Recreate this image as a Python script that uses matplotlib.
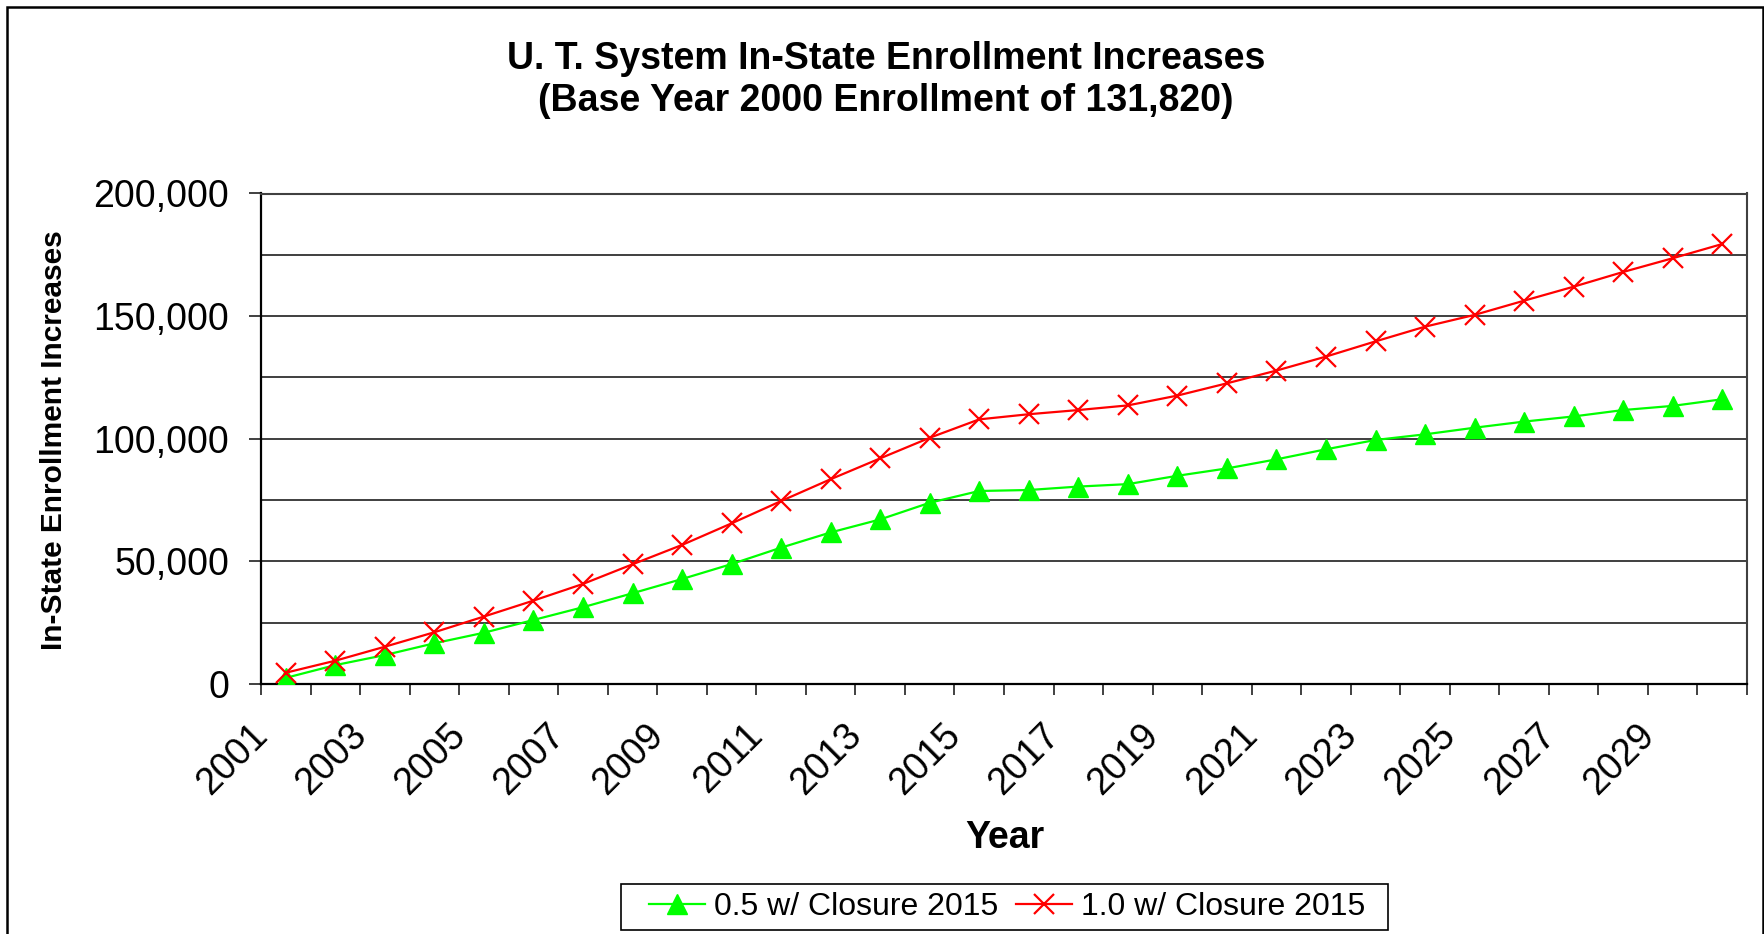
import numpy as np
import matplotlib
matplotlib.use('Agg')
import matplotlib.pyplot as plt
from matplotlib.ticker import FuncFormatter, MultipleLocator
from matplotlib.transforms import blended_transform_factory, offset_copy
from matplotlib.patches import Rectangle

# ---- data ----
years = list(range(2001, 2031))
series_names = ["0.5 w/ Closure 2015", "1.0 w/ Closure 2015"]
green_vals = [2500, 7700, 11800, 16600, 20900, 26100, 31300, 37000, 42800, 48900,
              55600, 61800, 67100, 73900, 78700, 79100, 80500, 81500, 84900, 87900,
              91600, 95700, 99500, 101800, 104500, 107000, 109100, 111700, 113400, 116100]
red_vals = [4600, 9500, 15200, 21100, 27500, 34000, 40800, 48800, 56700, 65500,
            74600, 83500, 92000, 100400, 107900, 110000, 111700, 113600, 117600, 122600,
            127800, 133500, 139700, 145700, 150500, 156300, 162000, 168000, 173600, 179400]
title_text = "U. T. System In-State Enrollment Increases\n(Base Year 2000 Enrollment of 131,820)"
x_label = "Year"
y_label = "In-State Enrollment Increases"

plt.rcParams['font.family'] = ['Liberation Sans', 'DejaVu Sans']

W, H = 1764, 934
fig = plt.figure(figsize=(W / 100, H / 100), dpi=100)
ax = fig.add_axes([261 / W, 1 - 684 / H, (1747 - 261) / W, (684 - 193.5) / H])

x = np.arange(len(years))
ax.plot(x, green_vals, color='#00FF00', lw=1.6, marker='^', ms=15,
        mec='#00FF00', mfc='#00FF00', label=series_names[0], zorder=3)
ax.plot(x, red_vals, color='#FF0000', lw=1.6, marker='x', ms=15, mew=1.6,
        label=series_names[1], zorder=4)

ax.set_xlim(-0.5, len(years) - 0.5)
ax.set_ylim(0, 200000)
ax.yaxis.set_major_locator(MultipleLocator(50000))
ax.yaxis.set_minor_locator(MultipleLocator(25000))
ax.grid(which='both', axis='y', color='#303030', lw=1.3)
ax.set_axisbelow(True)
ax.yaxis.set_major_formatter(FuncFormatter(lambda v, p: f'{int(v):,}'))
ax.tick_params(axis='y', which='major', length=9, width=1.4, pad=14,
               labelsize=27, direction='out', color='#404040')
ax.tick_params(axis='y', which='minor', length=0)

ax.set_xticks(x[::2])
ax.set_xticklabels([''] * len(x[::2]))
ax.set_xticks(np.arange(-0.5, len(years), 1), minor=True)
ax.tick_params(axis='x', which='major', length=0)
ax.tick_params(axis='x', which='minor', length=8, width=1.4, direction='out', color='#404040')

trans = offset_copy(blended_transform_factory(ax.transData, ax.transAxes),
                    fig=fig, x=-24, y=-46, units='dots')
for i in range(0, len(years), 2):
    ax.text(x[i], 0, str(years[i]), transform=trans, rotation=45, ha='right',
            va='center', rotation_mode='anchor', fontsize=27, clip_on=False)

for s in ['left', 'bottom']:
    ax.spines[s].set_color('black')
    ax.spines[s].set_linewidth(1.6)
for s in ['top', 'right']:
    ax.spines[s].set_color('#404040')
    ax.spines[s].set_linewidth(1.5)

fig.text(886 / W, 1 - 80 / H, title_text, ha='center', va='center',
         fontsize=27, fontweight='bold', linespacing=1.24)
fig.text(1005 / W, 1 - 838 / H, x_label, ha='center', va='center',
         fontsize=27, fontweight='bold')
fig.text(54 / W, 1 - 440 / H, y_label, ha='center', va='center',
         rotation=90, fontsize=21.5, fontweight='bold')

leg = ax.legend(loc='center', bbox_to_anchor=(1007 / W, 1 - 907 / H),
                bbox_transform=fig.transFigure, ncol=2, frameon=False,
                fontsize=23, handlelength=1.75, handletextpad=0.28,
                columnspacing=0.56, borderpad=0)

fig.patches.append(Rectangle((621 / W, 1 - 930 / H), (1388 - 621) / W, 46 / H,
                             transform=fig.transFigure, fill=False,
                             ec='black', lw=1.2))
fig.patches.append(Rectangle((7 / W, -0.02), (1763 - 7) / W, 1 - 7 / H + 0.02,
                             transform=fig.transFigure, fill=False,
                             ec='black', lw=1.8, clip_on=False))

fig.savefig('out.png', dpi=100)
